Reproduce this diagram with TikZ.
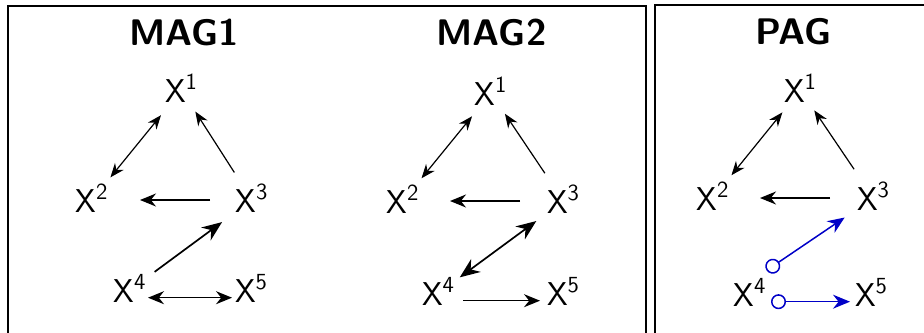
\documentclass[tikz,border=0pt]{standalone}
\usetikzlibrary{arrows.meta}
\definecolor{pagblue}{rgb}{0,0,0.78}
\begin{document}
\begin{tikzpicture}[x=0.5pt,y=-0.5pt,
  var/.style={inner sep=0pt, text height=12pt, text depth=0pt, font=\fontsize{16.5}{19}\selectfont\sffamily},
  ttl/.style={inner sep=0pt, font=\fontsize{18.5}{22}\selectfont\sffamily\bfseries},
  panel/.style={line width=0.9pt},
  small/.style={line width=0.6pt, >={Stealth[length=7pt,width=5.5pt]}},
  medium/.style={line width=0.75pt, >={Stealth[length=8pt,width=6.5pt]}},
  heavy/.style={line width=0.85pt, >={Stealth[length=10pt,width=8pt]}},
  circ/.style={pagblue, line width=0.75pt, {Circle[open,length=7.5pt]}-{Stealth[length=8.5pt,width=7pt]}}]
\useasboundingbox (0,0) rectangle (924,332);
% panels
\draw[panel] (8,6) rectangle (646,345);
\draw[panel] (655,5) rectangle (935,345);
\node[ttl] (t1) at (184,32) {MAG1};
\node[ttl] (t2) at (491.5,32) {MAG2};
\node[ttl] (t3) at (793.5,32) {PAG};
% MAG1
\node[var] (m1x1) at (181.5,90) {X\textsuperscript{1}};
\node[var] (m1x2) at (92,200) {X\textsuperscript{2}};
\node[var] (m1x3) at (252,200) {X\textsuperscript{3}};
\node[var] (m1x4) at (130,290) {X\textsuperscript{4}};
\node[var] (m1x5) at (251.5,290) {X\textsuperscript{5}};
\draw[small,<->,shorten <=16.25pt,shorten >=14.6pt] (m1x1.center) -- (m1x2.center);
\draw[small,->,shorten <=16.35pt,shorten >=12.8pt] (m1x3.center) -- (m1x1.center);
\draw[medium,->,shorten <=21pt,shorten >=24pt] (m1x3.center) -- (m1x2.center);
\draw[heavy,->,shorten <=15.3pt,shorten >=18.6pt] (m1x4.center) -- (m1x3.center);
\draw[medium,<->,shorten <=9pt,shorten >=9.75pt] (m1x4.mid) -- (m1x5.mid);
% MAG2
\node[var] (m2x1) at (491,93) {X\textsuperscript{1}};
\node[var] (m2x2) at (403,201) {X\textsuperscript{2}};
\node[var] (m2x3) at (563.5,201) {X\textsuperscript{3}};
\node[var] (m2x4) at (438.5,293) {X\textsuperscript{4}};
\node[var] (m2x5) at (563.5,293) {X\textsuperscript{5}};
\draw[small,<->,shorten <=15pt,shorten >=14.65pt] (m2x1.center) -- (m2x2.center);
\draw[small,->,shorten <=16.75pt,shorten >=12.5pt] (m2x3.center) -- (m2x1.center);
\draw[medium,->,shorten <=21.75pt,shorten >=23.5pt] (m2x3.center) -- (m2x2.center);
\draw[heavy,<->,shorten <=13.2pt,shorten >=16.9pt] (m2x4.center) -- (m2x3.center);
\draw[medium,->,shorten <=12.25pt,shorten >=11.75pt] (m2x4.mid) -- (m2x5.mid);
% PAG
\node[var] (pgx1) at (800.5,90) {X\textsuperscript{1}};
\node[var] (pgx2) at (713,198) {X\textsuperscript{2}};
\node[var] (pgx3) at (873.5,198) {X\textsuperscript{3}};
\node[var] (pgx4) at (750,294) {X\textsuperscript{4}};
\node[var] (pgx5) at (871.5,294) {X\textsuperscript{5}};
\draw[small,<->,shorten <=14.4pt,shorten >=14.65pt] (pgx1.center) -- (pgx2.center);
\draw[small,->,shorten <=17.35pt,shorten >=12.3pt] (pgx3.center) -- (pgx1.center);
\draw[medium,->,shorten <=21.75pt,shorten >=23.5pt] (pgx3.center) -- (pgx2.center);
\draw[circ,shorten <=10pt,shorten >=17.4pt] (pgx4.north) -- (pgx3.center);
\draw[circ,shorten <=10.5pt,shorten >=10.75pt] (pgx4.mid) -- (pgx5.mid);
\end{tikzpicture}
\end{document}
